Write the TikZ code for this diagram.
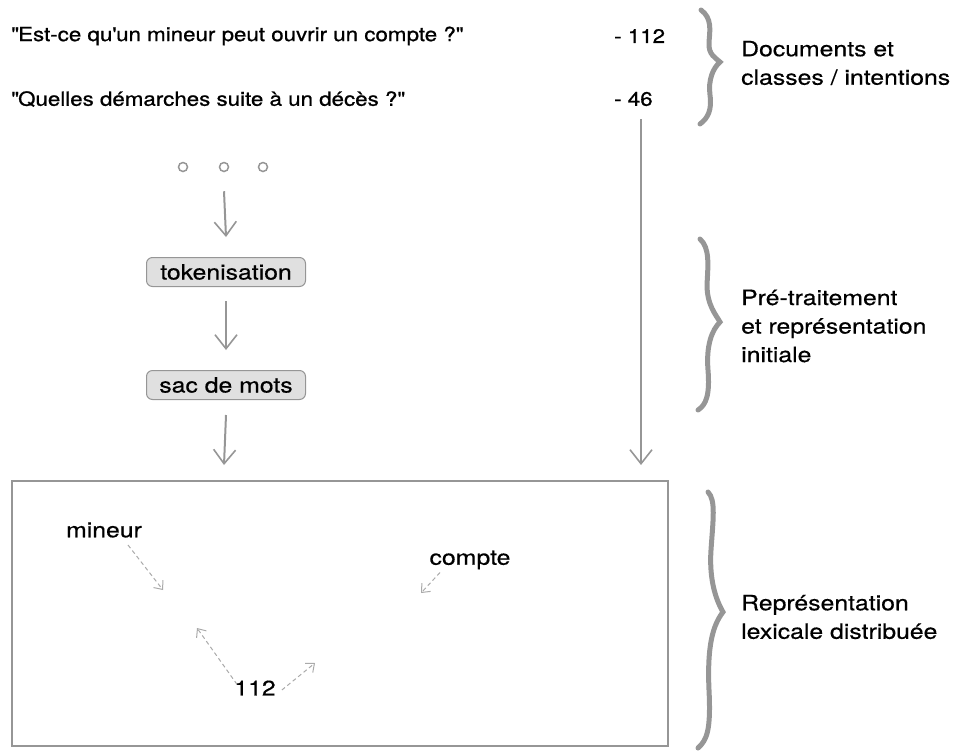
\documentclass[tikz,border=0pt]{standalone}
\usepackage{fontspec}
\setmainfont{TeX Gyre Heros}[FakeStretch=1.18,FakeBold=0.5]
\newfontfamily\questfont{TeX Gyre Heros}[FakeStretch=1.145,FakeBold=0.9]
\usetikzlibrary{positioning, arrows.meta}
\definecolor{LineGrey}{RGB}{150,150,150}
\definecolor{DashGrey}{RGB}{170,170,170}
\definecolor{BoxFill}{RGB}{224,224,224}

\begin{document}
\begin{tikzpicture}[x=1pt,y=-1pt,
    txt/.style={inner sep=0pt,font=\fontsize{21}{28.5}\selectfont},
    quest/.style={inner sep=0pt,anchor=west,font=\questfont\fontsize{19.5}{24}\selectfont},
    label/.style={txt,anchor=west,align=left},
    stepbox/.style={txt,draw=LineGrey,fill=BoxFill,rounded corners=6pt,line width=1pt,minimum width=159pt,minimum height=29pt},
    flow/.style={LineGrey,line width=2pt,-{Straight Barb[length=14pt,width=22pt,line width=1.6pt]}},
    hint/.style={DashGrey,line width=1pt,dash pattern=on 4pt off 3pt,-{Straight Barb[length=7pt,width=12pt,line width=1pt]}},
    curly/.style={LineGrey,line width=5pt,line cap=round}]
          \useasboundingbox (0,0) rectangle (953,753);
          % questions et classes
          \node[quest] (q1) at (11,36) {\textquotedbl Est-ce qu\textquotesingle un mineur peut ouvrir un compte ?\textquotedbl};
          \node[quest] (q2) at (11,99) {\textquotedbl Quelles démarches suite à un décès ?\textquotedbl};
          \node[quest] (c1) at (614,36) {- 112};
          \node[quest] (c2) at (614,99) {- 46};
          % chaine de traitement
          \foreach \x/\n in {183/a,224/b,263/c}
            \node[circle,draw=LineGrey,line width=1.5pt,minimum size=9pt,inner sep=0pt] (dot\n) at (\x,167) {};
          \node[stepbox] (tok) at (226,272) {tokenisation};
          \node[stepbox] (sac) at (226,385) {sac de mots};
          \draw[LineGrey,line width=2pt] (12,481) rectangle (668,746);
          \coordinate (espace) at (224,465);
          \coordinate (espaceR) at (641,465);
          \draw[flow] ([yshift=-19pt]dotb.south) -- ([yshift=20pt]tok.north);
          \draw[flow] ([yshift=-14pt]tok.south) -- ([yshift=20pt]sac.north);
          \draw[flow] ([yshift=-15pt]sac.south) -- (espace);
          \draw[flow] (espaceR |- c2.south) ++(0,13) -- (espaceR);
          % espace lexical
          \node[txt] (mineur) at (104,530) {mineur};
          \node[txt] (compte) at (470,560) {compte};
          \node[txt] (num) at (255,688) {112};
          \coordinate (pmineur) at (163,590);
          \coordinate (pcompte) at (421,593);
          \coordinate (pnum1) at (197,628);
          \coordinate (pnum2) at (315,663);
          \draw[hint] (128,545) -- (pmineur);
          \draw[hint] ([xshift=-30pt,yshift=-3pt]compte.south) -- (pcompte);
          \draw[hint] ([xshift=-18pt,yshift=-4pt]num.north) -- (pnum1);
          \draw[hint] ([xshift=6pt,yshift=-2pt]num.east) -- (pnum2);
          % accolades
          \draw[curly] (701,10) .. controls (712,18) and (710,30) .. (709,42)
                       .. controls (708,55) and (716,58) .. (720,62)
                       .. controls (713,68) and (708,80) .. (710,95)
                       .. controls (712,110) and (708,118) .. (700,124);
          \draw[curly] (700,239) .. controls (710,248) and (708,265) .. (707,285)
                       .. controls (707,305) and (716,315) .. (720,322)
                       .. controls (712,330) and (706,345) .. (708,370)
                       .. controls (710,395) and (706,405) .. (698,410);
          \draw[curly] (708,492) .. controls (716,500) and (713,520) .. (711,550)
                       .. controls (709,580) and (716,600) .. (723,612)
                       .. controls (713,625) and (707,645) .. (709,690)
                       .. controls (711,730) and (707,740) .. (698,748);
          \node[label] (lab1) at (741,63) {Documents et\\classes / intentions};
          \node[label] (lab2) at (741,326) {Pré-traitement\\et représentation\\initiale};
          \node[label] (lab3) at (741,617) {Représentation\\lexicale distribuée};
        \end{tikzpicture}
\end{document}
